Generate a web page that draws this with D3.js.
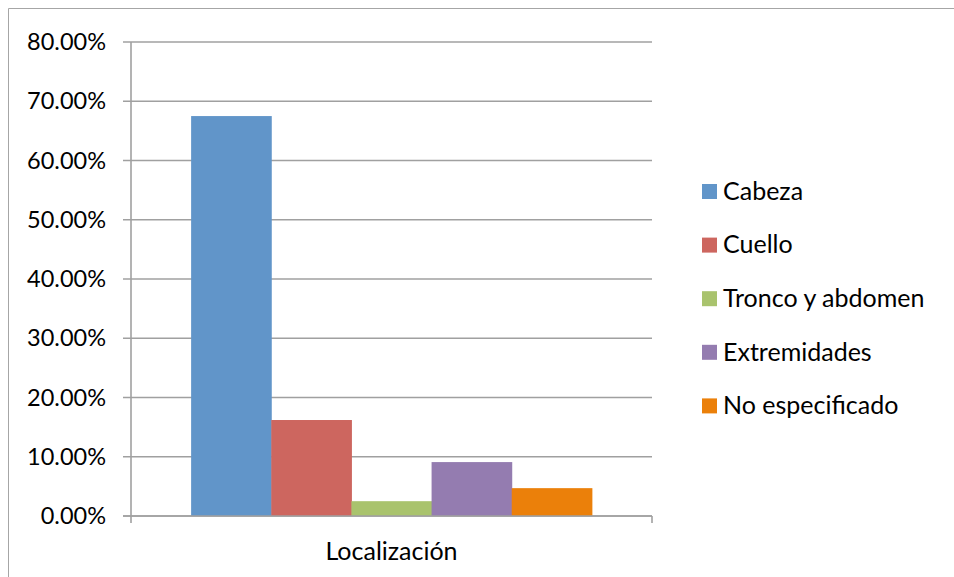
<!DOCTYPE html>
<html><head><meta charset="utf-8">
<script src="https://cdn.jsdelivr.net/npm/d3@7"></script>
<style>body{margin:0;background:#fff}svg{display:block}text{font-family:Lato,"Liberation Sans",sans-serif;fill:#000}</style>
</head><body>
<svg id="c" width="954" height="577"></svg>
<script>
const categories = ["Localización"];
const seriesNames = ["Cabeza","Cuello","Tronco y abdomen","Extremidades","No especificado"];
const seriesValues = [0.675, 0.162, 0.025, 0.091, 0.047];
const seriesColors = ["#6195c9","#cd665f","#a9c36d","#947cb0","#eb800a"];
const yTicks = [0,0.1,0.2,0.3,0.4,0.5,0.6,0.7,0.8];

const svg = d3.select("#c");
const m = {left:131, right:652, top:42, bottom:516};
// outer frame
svg.append("path").attr("d","M8.5,577 L8.5,8.5 L954,8.5").attr("fill","none").attr("stroke","#a6a6a6").attr("stroke-width",1);

const y = d3.scaleLinear().domain([0,0.8]).range([m.bottom,m.top]);
const x0 = d3.scaleBand().domain(categories).range([m.left,m.right]).padding(0);
// Excel gap width 150%: bars occupy n/(n+1.5) of category band
const band = x0.bandwidth();
const barW = band/(seriesNames.length+1.5);
const x1 = d3.scaleBand().domain(seriesNames).range([0, barW*seriesNames.length]).padding(0);

// gridlines
svg.append("g").selectAll("line").data(yTicks).join("line")
  .attr("x1",m.left-8).attr("x2",m.right).attr("y1",d=>y(d)).attr("y2",d=>y(d))
  .attr("stroke","#a0a0a0").attr("stroke-width",1.6);

// bars
const g = svg.append("g").attr("transform",`translate(${x0(categories[0])+barW*0.75},0)`);
g.selectAll("rect").data(seriesNames).join("rect")
  .attr("x",d=>x1(d)).attr("width",x1.bandwidth()+0.5)
  .attr("y",(d,i)=>y(seriesValues[i])).attr("height",(d,i)=>m.bottom-y(seriesValues[i]))
  .attr("fill",(d,i)=>seriesColors[i]);

// axes lines
svg.append("line").attr("x1",m.left).attr("x2",m.left).attr("y1",m.top).attr("y2",m.bottom+7).attr("stroke","#a0a0a0").attr("stroke-width",1.6);
svg.append("line").attr("x1",m.left-8).attr("x2",m.right).attr("y1",m.bottom).attr("y2",m.bottom).attr("stroke","#a0a0a0").attr("stroke-width",1.6);
svg.append("line").attr("x1",m.right).attr("x2",m.right).attr("y1",m.bottom).attr("y2",m.bottom+7).attr("stroke","#a0a0a0").attr("stroke-width",1.6);

// y labels
svg.append("g").selectAll("text").data(yTicks).join("text")
  .attr("x",106).attr("y",d=>y(d)).attr("dy","0.35em").attr("text-anchor","end")
  .attr("font-size",23.5).text(d=>(d*100).toFixed(2)+"%");

// x label
svg.append("text").attr("x",(m.left+m.right)/2).attr("y",551).attr("dy","0.35em")
  .attr("text-anchor","middle").attr("font-size",25).text(categories[0]);

// legend
const lg = svg.append("g").selectAll("g").data(seriesNames).join("g")
  .attr("transform",(d,i)=>`translate(702,${191+i*53.6})`);
lg.append("rect").attr("x",0).attr("y",-7).attr("width",15).attr("height",15).attr("fill",(d,i)=>seriesColors[i]);
lg.append("text").attr("x",21).attr("y",0).attr("dy","0.35em").attr("font-size",25).text(d=>d);
</script>
</body></html>
